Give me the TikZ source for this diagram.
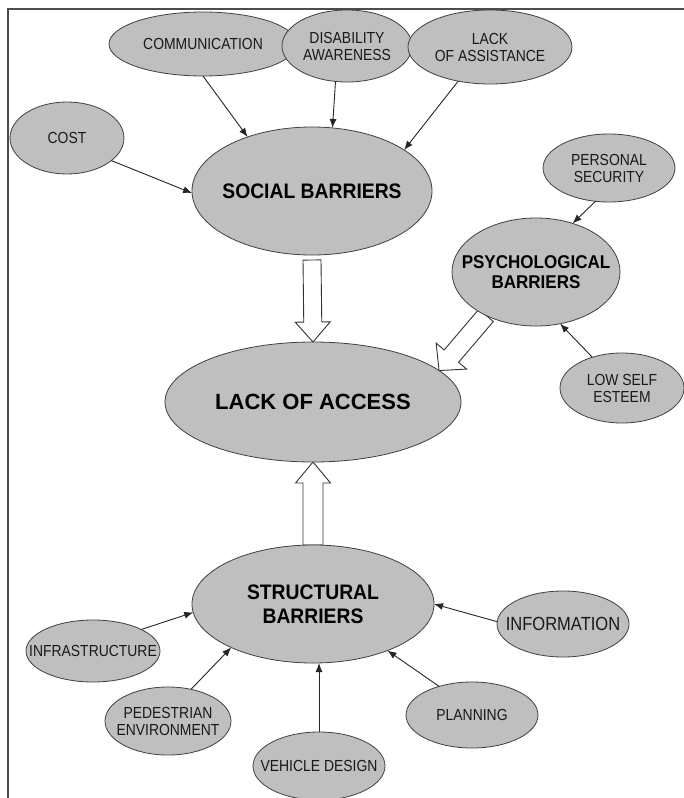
\documentclass[tikz,border=0pt]{standalone}
\usepackage{fontspec}
\setmainfont{Liberation Sans}
\newfontfamily\smallfont[FakeStretch=0.87]{Liberation Sans}
\newfontfamily\bigfont[FakeStretch=0.92]{Liberation Sans}
\usetikzlibrary{shapes.geometric,arrows.meta,calc}
\pgfdeclarelayer{background}
\pgfsetlayers{background,main}
\newcommand\blockarr[5]{%
  \coordinate (bh) at ($(#2)!#5!(#1)$);
  \draw[hollow] ($(#1)!#3!-90:(#2)$) -- ($(bh)!#3!90:(#1)$) -- ($(bh)!#4!90:(#1)$) -- (#2)
    -- ($(bh)!#4!-90:(#1)$) -- ($(bh)!#3!-90:(#1)$) -- ($(#1)!#3!90:(#2)$) -- cycle;}
\begin{document}
\begin{tikzpicture}[x=1pt,y=-1pt,
  bub/.style={ellipse, draw=black!75, line width=0.8pt, fill=gray!50, inner sep=0pt, outer sep=0pt},
  sm/.style={font={\smallfont\fontsize{16}{17}\selectfont}, align=center, text=black!90},
  bg/.style={font={\bigfont\bfseries\fontsize{21}{24}\selectfont}, align=center, text=black},
  con/.style={-{Latex[length=9pt,width=7pt]}, line width=0.9pt, draw=black!85},
  hollow/.style={draw=black!80, line width=0.9pt, fill=white, line join=miter},
  frame/.style={draw=black!70, line width=1.4pt}]
\useasboundingbox (0,0) rectangle (684,798);
\begin{pgfonlayer}{background}
\fill[white] (0,0) rectangle (684,798);
\end{pgfonlayer}
\draw[frame] (8,798) -- (8,9) -- (684,9);

% social group
\node[bub, minimum width=188pt, minimum height=64pt, label={[sm]center:COMMUNICATION}] (comm) at (203,44) {};
\node[bub, minimum width=130pt, minimum height=72pt, label={[sm]center:{DISABILITY\\AWARENESS}}] (dis) at (347,46) {};
\node[bub, minimum width=164pt, minimum height=74pt, label={[sm]center:{LACK\\OF ASSISTANCE}}] (lack) at (490,47) {};
\node[bub, minimum width=114pt, minimum height=72pt, label={[sm]center:COST}] (cost) at (67,138) {};
\node[bub, minimum width=240pt, minimum height=128pt, label={[bg]center:SOCIAL BARRIERS}] (soc) at (312,191) {};

% psychological group
\node[bub, minimum width=132pt, minimum height=68pt, label={[sm]center:{PERSONAL\\SECURITY}}] (pers) at (609,168) {};
\node[bub, minimum width=168pt, minimum height=108pt,
  label={[bg, font={\bigfont\bfseries\fontsize{18.5}{20}\selectfont}]center:{PSYCHOLOGICAL\\BARRIERS}}] (psy) at (536,272) {};
\node[bub, minimum width=124pt, minimum height=70pt, label={[sm]center:{LOW SELF\\ESTEEM}}] (low) at (622,388) {};

% centre
\node[bub, minimum width=296pt, minimum height=120pt,
  label={[bg, font={\bfseries\fontsize{22}{24}\selectfont}]center:LACK OF ACCESS}] (acc) at (313,402) {};

% structural group
\node[bub, minimum width=242pt, minimum height=118pt, label={[bg]center:{STRUCTURAL\\BARRIERS}}] (str) at (313,604) {};
\node[bub, minimum width=132pt, minimum height=66pt,
  label={[sm, font={\smallfont\fontsize{19}{21}\selectfont}]center:INFORMATION}] (info) at (563,624) {};
\node[bub, minimum width=134pt, minimum height=62pt, label={[sm]center:INFRASTRUCTURE}] (infra) at (93,651) {};
\node[bub, minimum width=126pt, minimum height=68pt, label={[sm]center:{PEDESTRIAN\\ENVIRONMENT}}] (ped) at (168,721) {};
\node[bub, minimum width=132pt, minimum height=68pt, label={[sm]center:VEHICLE DESIGN}] (veh) at (319,766) {};
\node[bub, minimum width=132pt, minimum height=66pt, label={[sm]center:PLANNING}] (plan) at (472,715) {};

% small connectors
\draw[con] (comm.-90) -- (soc.140);
\draw[con] (dis.-108) -- (soc.72);
\draw[con] (lack.-133) -- (soc.24);
\draw[con] (cost.-27) -- (soc.-179);
\draw[con] (pers.-112) -- (psy.53);
\draw[con] (low.134) -- (psy.-65);
\draw[con] (infra.24) -- (str.-176);
\draw[con] (ped.54) -- (str.-152);
\draw[con] (veh.north) -- (veh.north |- str.south);
\draw[con] (plan.139) -- (str.-32);
\draw[con] (info.178) -- (str.0);

% hollow block arrows
\begin{pgfonlayer}{background}
\coordinate (sa) at ([yshift=-5pt]soc.south);
\blockarr{sa}{acc.north}{9pt}{17.5pt}{20pt}
\blockarr{str.north}{acc.south}{10pt}{17.5pt}{21pt}
\blockarr{psy.-139}{acc.14}{9.5pt}{20pt}{19pt}
\end{pgfonlayer}
\end{tikzpicture}
\end{document}
